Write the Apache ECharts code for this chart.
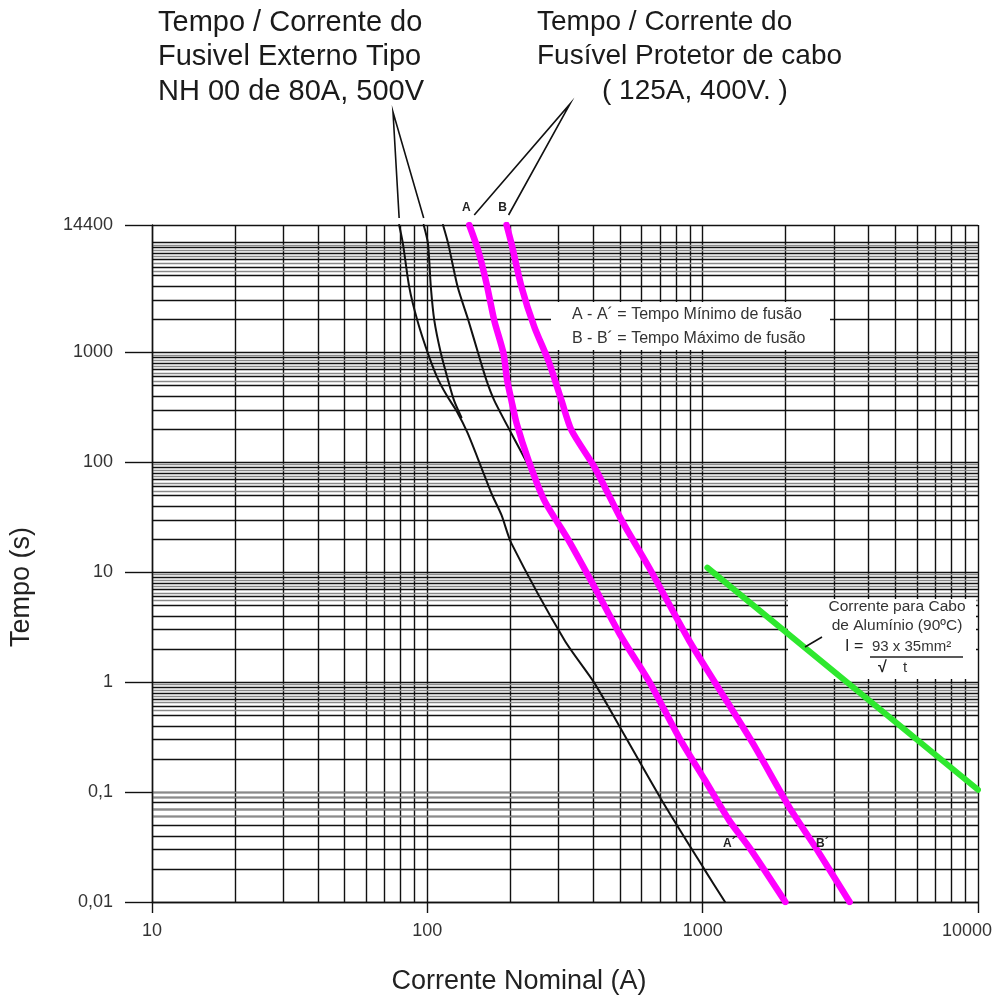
<!DOCTYPE html>
<html>
<head>
<meta charset="utf-8">
<script src="https://cdn.jsdelivr.net/npm/echarts@6/dist/echarts.min.js"></script>
<style>
html,body{margin:0;padding:0;background:#fff;}
#chart{width:1000px;height:996px;}
</style>
</head>
<body>
<div id="chart"></div>
<script>
// ---- axis ranges ----
const xMin = 10, xMax = 10000;
const yMin = 0.01, yMax = 14400;

// ---- grid line multiples (log paper) ----
const xDecades = [10, 100, 1000];
const yDecades = [0.01, 0.1, 1, 10, 100, 1000];
const minorMultiples = [2, 3, 4, 5, 6, 7, 8, 9];
const halfMultiples = [5.5, 6.5, 7.5, 8.5, 9.5];

// ---- curves: [current (A), time (s)] ----
const fuse80Min = [[79,14400],[81.5,9800],[86,3900],[92,1950],[100.5,980],[109,580],[118,400],[128,290],[140,185],[157,90],[171,52],[186,33],[202,18.3],[315,2.4],[405,0.975],[508,0.365],[711,0.084],[1020,0.0194],[1206,0.01]];
const fuse80Max = [[97,14400],[100.5,9800],[103,3900],[106,1950],[112,980],[119,556],[125,366],[133,256]];
const fuseMid = [[114,14400],[119,9800],[129,3900],[141,1950],[153,980],[164,556],[175,366],[202,183],[258,58]];
const cableFuseMinA = [[142,14400],[153,8460],[164,4240],[175,1950],[189,980],[195,556],[202,366],[211,226],[233,104],[266,45],[326,19.5],[405,7.3],[508,2.55],[645,0.975],[820,0.315],[1020,0.128],[1248,0.0553],[1476,0.0314],[1997,0.01]];
const cableFuseMaxB = [[194,14400],[202,9800],[220,3900],[245,1690],[275,845],[307,366],[334,195],[405,90],[508,29.6],[638,11.1],[892,2.4],[1114,0.975],[1522,0.277],[2065,0.0726],[2570,0.0314],[3418,0.01]];
const aluminiumCable = [[1040,11],[10000,0.105]];

// ---- texts ----
const titleLeft = ['Tempo / Corrente do', 'Fusivel Externo Tipo', 'NH 00 de 80A, 500V'];
const titleRight = ['Tempo / Corrente do', 'Fusível Protetor de cabo', '( 125A, 400V. )'];
const legendLines = ['A - A´ = Tempo Mínimo de fusão', 'B - B´ = Tempo Máximo de fusão'];
const cableLines = ['Corrente para Cabo', 'de Alumínio (90ºC)'];
const lowerLabelPos = [['A´', 1250, 0.034], ['B´', 2720, 0.034]];
const xAxisName = 'Corrente Nominal (A)';
const yAxisName = 'Tempo (s)';

const FONT = "'Liberation Sans', Arial, sans-serif";

const vLines = [];
xDecades.forEach(d => minorMultiples.forEach(m => vLines.push({xAxis: +(d*m).toPrecision(6)})));
const hLines = [];
yDecades.forEach(d => minorMultiples.forEach(m => hLines.push({yAxis: +(d*m).toPrecision(6)})));
const hHalf = [];
yDecades.forEach(d => halfMultiples.forEach(m => hHalf.push({yAxis: +(d*m).toPrecision(6)})));

function fmt(v){
  let s = v >= 1 ? String(Math.round(v)) : String(+v.toPrecision(6));
  return s.replace('.', ',');
}
function fmtX(v){
  const s = fmt(v);
  return v >= xMax * 0.999 ? '{r|' + s + '}' : s;
}

const chart = echarts.init(document.getElementById('chart'), null, {renderer:'canvas'});
const gridLineStyle = {color:'#111', width:1.4};

function curve(name, data, color, width, z){
  return {
    name, type:'line', data, showSymbol:false, symbol:'none', smooth:0.25, z,
    lineStyle:{color, width, cap:'round', join:'round'}, silent:true
  };
}

chart.setOption({
  animation:false,
  backgroundColor:'#fff',
  grid:{left:152, right:22, top:225, bottom:94, containLabel:false, outerBoundsMode:'none'},
  xAxis:{
    type:'log', logBase:10, min:xMin, max:xMax,
    axisLine:{show:true, lineStyle:gridLineStyle},
    axisTick:{show:true, length:11, lineStyle:gridLineStyle},
    axisLabel:{margin:20, fontSize:18, color:'#333', fontFamily:FONT, formatter:fmtX, showMinLabel:true, showMaxLabel:true,
      rich:{r:{fontSize:18, color:'#333', fontFamily:FONT, padding:[0,22,0,0]}}},
    splitLine:{show:true, lineStyle:gridLineStyle},
    minorTick:{show:false}, minorSplitLine:{show:false}
  },
  yAxis:{
    type:'log', logBase:10, min:yMin, max:yMax,
    axisLine:{show:true, lineStyle:gridLineStyle},
    axisTick:{show:true, length:27, lineStyle:gridLineStyle},
    axisLabel:{margin:39, fontSize:18, color:'#333', fontFamily:FONT, formatter:fmt, showMinLabel:true, showMaxLabel:true},
    splitLine:{show:true, lineStyle:gridLineStyle}
  },
  series:[
    {
      name:'grid', type:'line', data:[], z:0, silent:true,
      markLine:{z:0, silent:true, symbol:['none','none'], label:{show:false}, animation:false,
        lineStyle:{color:'#111', width:1.4, type:'solid'},
        emphasis:{disabled:true},
        data: vLines.concat(hLines)}
    },
    {
      name:'grid-half', type:'line', data:[], z:0, silent:true,
      markLine:{z:0, silent:true, symbol:['none','none'], label:{show:false}, animation:false,
        lineStyle:{color:'#8a8a8a', width:1.4, type:'solid'},
        emphasis:{disabled:true},
        data: hHalf}
    },
    curve('Fusível NH 00 80A (mín.)', fuse80Min, '#111', 2, 8),
    curve('Fusível NH 00 80A (máx.)', fuse80Max, '#111', 2, 8),
    curve('Curva intermédia', fuseMid, '#111', 2, 8),
    curve('A - A´ Tempo Mínimo de fusão', cableFuseMinA, '#ff00ff', 6.5, 9),
    curve('B - B´ Tempo Máximo de fusão', cableFuseMaxB, '#ff00ff', 6.5, 9),
    curve('Cabo de Alumínio (90ºC)', aluminiumCable, '#2ee82e', 6, 9)
  ]
});

// ---- annotations anchored on curve positions ----
const toPx = v => chart.convertToPixel({xAxisIndex:0, yAxisIndex:0}, v);
const p1 = toPx(fuse80Min[0]), p2 = toPx(fuse80Max[0]);
const pa = toPx(cableFuseMinA[0]), pb = toPx(cableFuseMaxB[0]);

const graphics = [];
// white boxes covering the grid
graphics.push({type:'rect', z:6, silent:true, shape:{x:551, y:302, width:279, height:48}, style:{fill:'#fff'}});
graphics.push({type:'rect', z:6, silent:true, shape:{x:788, y:599, width:188, height:80}, style:{fill:'#fff'}});

// titles
titleLeft.forEach((t,i) => graphics.push({type:'text', z:10, left:158, top:8 + i*34.5,
  style:{text:t, font:'29px ' + FONT, fill:'#1a1a1a'}}));
titleRight.forEach((t,i) => graphics.push({type:'text', z:10, left: i===2 ? 602 : 537, top:8 + i*34.5,
  style:{text:t, font:'28px ' + FONT, fill:'#1a1a1a'}}));

// axis names
graphics.push({type:'text', z:10, x:519, y:982, style:{text:xAxisName, font:'27px ' + FONT, fill:'#222', align:'center', verticalAlign:'middle'}});
graphics.push({type:'text', z:10, x:22, y:587, rotation:Math.PI/2, style:{text:yAxisName, font:'27px ' + FONT, fill:'#222', align:'center', verticalAlign:'middle'}});

// leader lines
graphics.push({type:'polyline', z:10, silent:true,
  shape:{points:[[p1[0], p1[1]-7],[393,112],[p2[0], p2[1]-7]]},
  style:{stroke:'#111', lineWidth:1.6, fill:null}});
graphics.push({type:'polyline', z:10, silent:true,
  shape:{points:[[pa[0]+5, pa[1]-10],[570,104],[pb[0]+2, pb[1]-10]]},
  style:{stroke:'#111', lineWidth:1.6, fill:null}});

// A / B labels at top
graphics.push({type:'text', z:10, x:pa[0]-3, y:pa[1]-17, style:{text:'A', font:'bold 12px ' + FONT, fill:'#222', align:'center', verticalAlign:'middle'}});
graphics.push({type:'text', z:10, x:pb[0]-4, y:pb[1]-17, style:{text:'B', font:'bold 12px ' + FONT, fill:'#222', align:'center', verticalAlign:'middle'}});

// lower A´ / B´ labels
lowerLabelPos.forEach(([t, xv, yv]) => {
  const p = toPx([xv, yv]);
  graphics.push({type:'text', z:10, x:p[0], y:p[1], style:{text:t, font:'bold 12px ' + FONT, fill:'#222', align:'center', verticalAlign:'middle'}});
});

// legend text
legendLines.forEach((t,i) => graphics.push({type:'text', z:10, x:572, y:315 + i*24,
  style:{text:t, font:'16px ' + FONT, fill:'#333', verticalAlign:'middle'}}));

// cable formula box
cableLines.forEach((t,i) => graphics.push({type:'text', z:10, x:897, y:607 + i*19,
  style:{text:t, font:'15.5px ' + FONT, fill:'#333', align:'center', verticalAlign:'middle'}}));
graphics.push({type:'text', z:10, x:845, y:647, style:{text:'I =', font:'16px ' + FONT, fill:'#222', verticalAlign:'middle'}});
graphics.push({type:'text', z:10, x:872, y:647, style:{text:'93 x 35mm²', font:'15px ' + FONT, fill:'#333', verticalAlign:'middle'}});
graphics.push({type:'line', z:10, silent:true, shape:{x1:870, y1:657, x2:963, y2:657}, style:{stroke:'#222', lineWidth:1.5}});
graphics.push({type:'text', z:10, x:878, y:668, style:{text:'√', font:'bold 16px ' + FONT, fill:'#222', verticalAlign:'middle'}});
graphics.push({type:'text', z:10, x:903, y:668, style:{text:'t', font:'15px ' + FONT, fill:'#333', verticalAlign:'middle'}});
graphics.push({type:'line', z:10, silent:true, shape:{x1:805, y1:647, x2:822, y2:637}, style:{stroke:'#111', lineWidth:1.6}});

chart.setOption({graphic:graphics});
</script>
</body>
</html>
